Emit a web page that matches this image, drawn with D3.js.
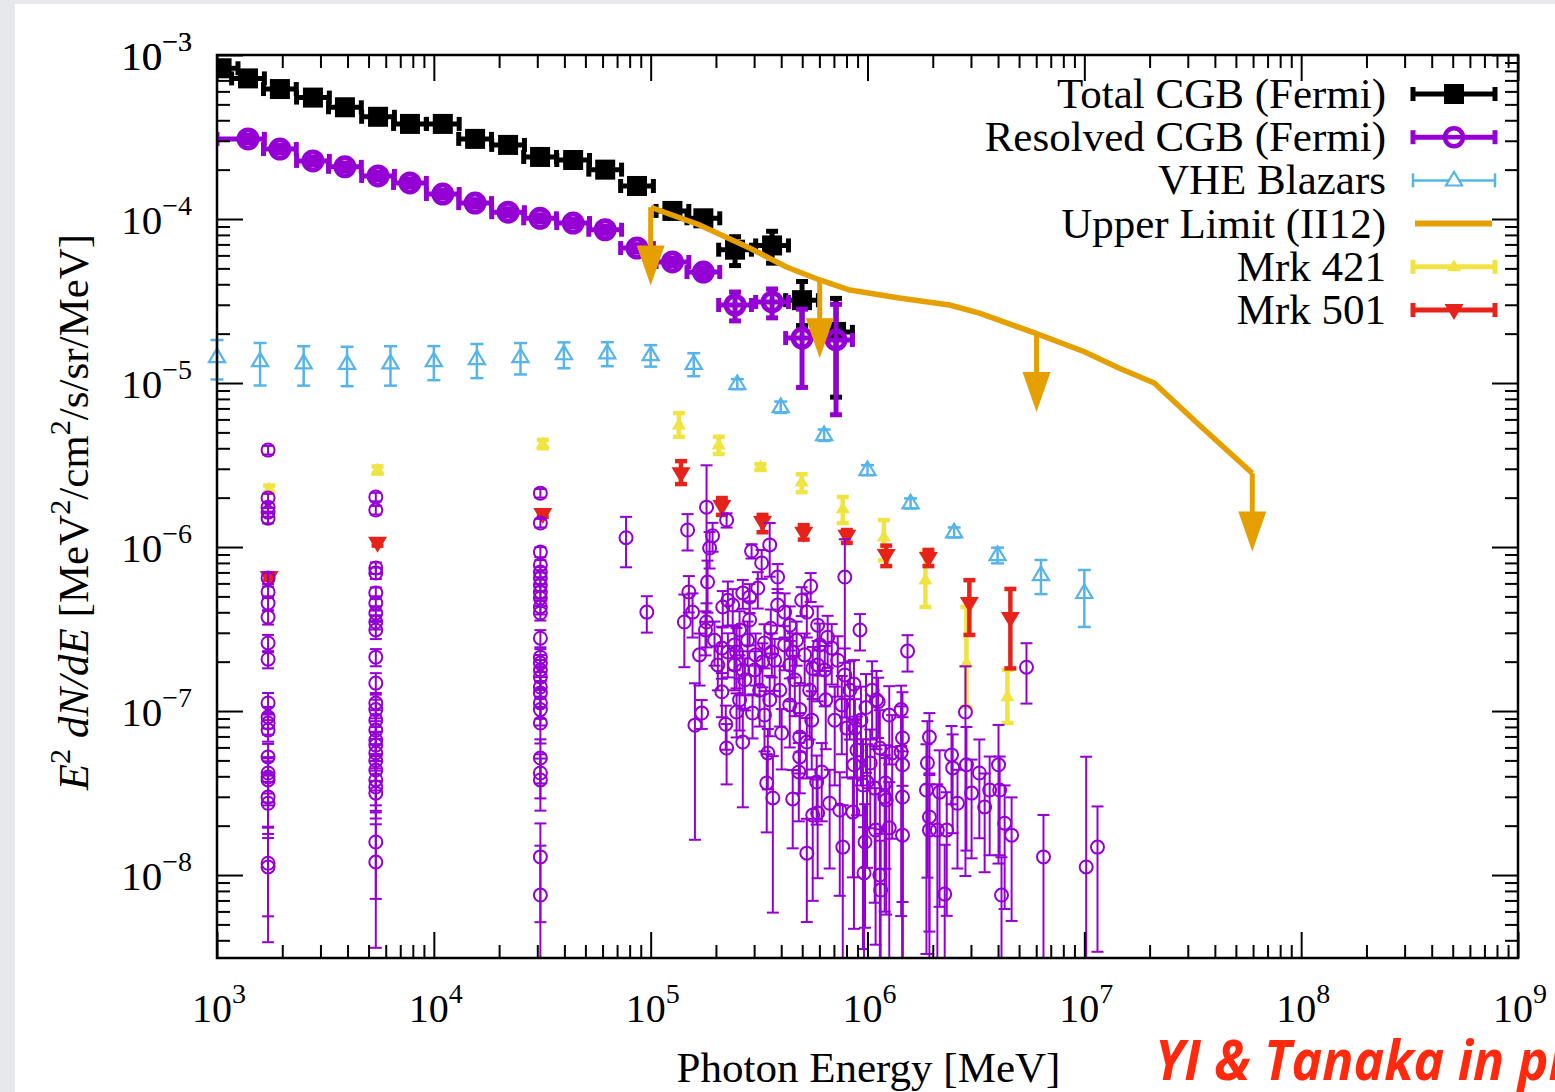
<!DOCTYPE html>
<html>
<head>
<meta charset="utf-8">
<script src="https://cdn.jsdelivr.net/npm/d3@7"></script>
<style>
  html, body { margin: 0; padding: 0; background: #e6e8eb; overflow: hidden; }
  svg { display: block; }
  text { font-family: "Liberation Serif", "Times New Roman", serif; fill: #000; }
</style>
</head>
<body>
<svg id="chart"></svg>
<script>
// Dimensions of the SVG
const W = 1555, H = 1092;
const margin = {top: 55, right: 37, bottom: 134, left: 217};
const width = W - margin.left - margin.right;
const height = H - margin.top - margin.bottom;

// Axis limits
const xMin = 1e3, xMax = 1e9;
const yMin = 3.12e-9, yMax = 1e-3;

// Total CGB (Fermi) : energy [MeV], E^2 dN/dE, relative error
const cgbE = [1.05e3, 1.39e3, 1.95e3, 2.77e3, 3.89e3, 5.53e3, 7.76e3, 1.10e4, 1.55e4, 2.20e4,
  3.09e4, 4.39e4, 6.17e4, 8.65e4, 1.26e5, 1.75e5, 2.45e5, 3.63e5, 4.99e5, 7.16e5];
const cgbFlux = [8.3e-4, 7.2e-4, 6.2e-4, 5.5e-4, 4.8e-4, 4.2e-4, 3.8e-4, 3.8e-4, 3.08e-4, 2.83e-4,
  2.39e-4, 2.29e-4, 2.0e-4, 1.59e-4, 1.12e-4, 1.01e-4, 6.5e-5, 6.9e-5, 3.2e-5, 2.05e-5];
const cgbErr = [0.05, 0.05, 0.05, 0.05, 0.05, 0.05, 0.05, 0.05, 0.05, 0.05,
  0.05, 0.05, 0.05, 0.06, 0.08, 0.08, 0.2, 0.22, 0.3, 0.6];
const binFactor = 1.19;   // half bin width (x 10^0.075)

// Resolved CGB (Fermi)
const resE = [1.39e3, 1.95e3, 2.77e3, 3.89e3, 5.53e3, 7.76e3, 1.10e4, 1.55e4, 2.20e4, 3.09e4,
  4.39e4, 6.17e4, 8.65e4, 1.26e5, 1.75e5, 2.45e5, 3.63e5, 4.99e5, 7.16e5];
const resFlux = [3.08e-4, 2.67e-4, 2.26e-4, 2.08e-4, 1.83e-4, 1.66e-4, 1.42e-4, 1.25e-4, 1.10e-4, 1.01e-4,
  9.45e-5, 8.6e-5, 6.65e-5, 5.47e-5, 4.75e-5, 2.99e-5, 3.12e-5, 1.88e-5, 1.83e-5];
const resErr = [0.05, 0.05, 0.05, 0.05, 0.05, 0.05, 0.05, 0.05, 0.05, 0.05,
  0.05, 0.05, 0.05, 0.05, 0.06, 0.2, 0.2, 0.5, 0.65];
const resFirstLo = 1.0e3;

// VHE Blazars
const vheE = [1.0e3, 1.58e3, 2.51e3, 3.98e3, 6.31e3, 1.0e4, 1.58e4, 2.51e4, 3.98e4, 6.31e4,
  1.0e5, 1.58e5, 2.51e5, 3.98e5, 6.31e5, 1.0e6, 1.58e6, 2.51e6, 3.98e6, 6.31e6, 1.0e7];
const vheFlux = [1.44e-5, 1.36e-5, 1.32e-5, 1.31e-5, 1.32e-5, 1.36e-5, 1.40e-5, 1.44e-5, 1.50e-5, 1.52e-5,
  1.48e-5, 1.31e-5, 9.87e-6, 7.14e-6, 4.82e-6, 2.95e-6, 1.85e-6, 1.23e-6, 8.93e-7, 6.75e-7, 5.25e-7];
const vheErr = [0.27, 0.29, 0.27, 0.27, 0.27, 0.235, 0.235, 0.217, 0.18, 0.167,
  0.15, 0.16, 0.07, 0.08, 0.08, 0.07, 0.07, 0.07, 0.11, 0.235, 0.38];

// Upper Limit (II12)
const ulE = [1.0e5, 1.68e5, 2.86e5, 4.23e5, 6.02e5, 8.29e5, 1.4e6, 2.39e6, 3.28e6, 6.02e6,
  1.0e7, 1.45e7, 2.1e7, 3.39e7, 5.95e7];
const ulFlux = [1.18e-4, 9.2e-5, 6.65e-5, 5.1e-5, 4.25e-5, 3.69e-5, 3.3e-5, 2.99e-5, 2.67e-5, 2.0e-5,
  1.55e-5, 1.23e-5, 1.0e-5, 5.55e-6, 2.82e-6];
const ulArrows = [0, 4, 9, 14];
const ulDrop = 3;

// Mrk 421
const m421E = [1.74e3, 5.5e3, 3.18e4, 1.35e5, 2.06e5, 3.21e5, 4.97e5, 7.69e5, 1.19e6, 1.85e6, 2.86e6, 4.42e6];
const m421Flux = [2.26e-6, 2.95e-6, 4.25e-6, 5.55e-6, 4.19e-6, 3.08e-6, 2.49e-6, 1.71e-6, 1.15e-6, 6.3e-7, 1.96e-7, 1.22e-7];
const m421Lo = [2.15e-6, 2.8e-6, 4.0e-6, 4.7e-6, 3.69e-6, 2.95e-6, 2.16e-6, 1.40e-6, 8.3e-7, 4.31e-7, 1.06e-7, 8.45e-8];
const m421Hi = [2.37e-6, 3.1e-6, 4.5e-6, 6.56e-6, 4.7e-6, 3.2e-6, 2.78e-6, 2.02e-6, 1.46e-6, 9.2e-7, 4.31e-7, 1.78e-7];

// Mrk 501
const m501E = [1.74e3, 5.5e3, 3.18e4, 1.38e5, 2.13e5, 3.28e5, 5.08e5, 8.03e5, 1.22e6, 1.91e6, 2.95e6, 4.56e6];
const m501Flux = [6.56e-7, 1.06e-6, 1.59e-6, 2.82e-6, 1.78e-6, 1.42e-6, 1.22e-6, 1.17e-6, 8.94e-7, 8.57e-7, 4.55e-7, 3.69e-7];
const m501Lo = [6.3e-7, 1.02e-6, 1.53e-6, 2.42e-6, 1.57e-6, 1.23e-6, 1.11e-6, 1.06e-6, 7.65e-7, 7.65e-7, 2.91e-7, 1.82e-7];
const m501Hi = [6.8e-7, 1.1e-6, 1.65e-6, 3.34e-6, 1.99e-6, 1.57e-6, 1.36e-6, 1.27e-6, 1.02e-6, 9.6e-7, 6.28e-7, 5.55e-7];

// Individual sources : [energy, E^2 dN/dE, relative error]
const srcPoints = [
  // 1.7 GeV column
  [1.72e3, 3.9e-6, 0.06], [1.72e3, 1.99e-6, 0.06], [1.72e3, 1.75e-6, 0.06], [1.72e3, 1.63e-6, 0.06],
  [1.72e3, 1.5e-6, 0.07], [1.72e3, 6.47e-7, 0.08], [1.72e3, 5.32e-7, 0.08], [1.72e3, 4.55e-7, 0.1],
  [1.72e3, 3.74e-7, 0.1], [1.72e3, 2.6e-7, 0.12], [1.72e3, 2.07e-7, 0.12], [1.72e3, 1.12e-7, 0.15],
  [1.72e3, 9.2e-8, 0.15], [1.72e3, 8.45e-8, 0.15], [1.72e3, 7.65e-8, 0.15], [1.72e3, 5.25e-8, 0.2],
  [1.72e3, 4.19e-8, 0.25], [1.72e3, 3.96e-8, 0.3], [1.72e3, 3.8e-8, 0.3], [1.72e3, 2.99e-8, 0.35],
  [1.72e3, 2.74e-8, 0.35], [1.72e3, 1.18e-8, 0.67], [1.72e3, 1.12e-8, 0.5],
  // 5.4 GeV column
  [5.4e3, 2.02e-6, 0.06], [5.4e3, 1.68e-6, 0.06], [5.4e3, 7.45e-7, 0.08], [5.4e3, 6.94e-7, 0.08],
  [5.4e3, 5.25e-7, 0.08], [5.4e3, 4.55e-7, 0.1], [5.4e3, 3.96e-7, 0.1], [5.4e3, 3.49e-7, 0.1],
  [5.4e3, 3.12e-7, 0.12], [5.4e3, 2.13e-7, 0.12], [5.4e3, 1.48e-7, 0.15], [5.4e3, 1.12e-7, 0.15],
  [5.4e3, 1.02e-7, 0.15], [5.4e3, 8.8e-8, 0.15], [5.4e3, 7.65e-8, 0.18], [5.4e3, 6.65e-8, 0.2],
  [5.4e3, 6.2e-8, 0.2], [5.4e3, 5.55e-8, 0.22], [5.4e3, 5.0e-8, 0.25], [5.4e3, 4.37e-8, 0.25],
  [5.4e3, 3.8e-8, 0.3], [5.4e3, 3.44e-8, 0.3], [5.4e3, 3.16e-8, 0.3], [5.4e3, 1.59e-8, 0.55],
  [5.4e3, 1.2e-8, 0.7],
  // 31 GeV column
  [3.1e4, 2.13e-6, 0.06], [3.1e4, 1.4e-6, 0.06], [3.1e4, 9.32e-7, 0.07], [3.1e4, 7.77e-7, 0.07],
  [3.1e4, 7.04e-7, 0.07], [3.1e4, 6.47e-7, 0.08], [3.1e4, 5.86e-7, 0.08], [3.1e4, 5.32e-7, 0.08],
  [3.1e4, 4.88e-7, 0.1], [3.1e4, 4.31e-7, 0.1], [3.1e4, 3.96e-7, 0.1], [3.1e4, 2.78e-7, 0.12],
  [3.1e4, 2.13e-7, 0.12], [3.1e4, 1.96e-7, 0.12], [3.1e4, 1.78e-7, 0.15], [3.1e4, 1.61e-7, 0.15],
  [3.1e4, 1.4e-7, 0.15], [3.1e4, 1.29e-7, 0.18], [3.1e4, 1.12e-7, 0.2], [3.1e4, 1.02e-7, 0.2],
  [3.1e4, 8.45e-8, 0.25], [3.1e4, 5.17e-8, 0.3], [3.1e4, 4.19e-8, 0.3], [3.1e4, 3.8e-8, 0.35],
  [3.1e4, 1.29e-8, 0.6], [3.1e4, 7.55e-9, 1.0],
  // TeV sources
  [7.7e4, 1.14e-6, 0.34], [9.6e4, 4.01e-7, 0.25], [1.48e5, 1.27e-6, 0.25], [1.81e5, 1.75e-6, 0.8],
  [2.24e5, 1.46e-6, 0.1], [1.93e5, 1.17e-6, 0.2], [1.87e5, 9.86e-7, 0.25], [2.92e5, 9.45e-7, 0.1],
  [3.54e5, 1.03e-6, 0.36], [3.25e5, 7.99e-7, 0.2], [3.85e5, 6.56e-7, 0.2], [5.47e5, 5.78e-7, 0.2],
  [7.86e5, 6.56e-7, 0.7], [1.50e5, 5.32e-7, 0.25], [1.83e5, 6.12e-7, 0.35], [1.56e5, 4.01e-7, 0.3],
  [1.43e5, 3.49e-7, 0.47], [1.81e5, 3.49e-7, 0.3], [1.79e5, 3.12e-7, 0.3], [2.27e5, 4.74e-7, 0.3],
  [2.39e5, 4.43e-7, 0.25], [2.15e5, 4.31e-7, 0.25], [2.66e5, 5.25e-7, 0.2], [2.86e5, 4.95e-7, 0.2],
  [3.12e5, 5.62e-7, 0.25], [3.85e5, 4.43e-7, 0.25], [5.25e5, 4.01e-7, 0.3], [4.97e5, 4.74e-7, 0.2],
  [3.58e5, 3.2e-7, 0.3], [1.68e5, 2.2e-7, 0.35], [2.27e5, 2.29e-7, 0.3], [2.49e5, 2.29e-7, 0.4],
  [3.62e5, 2.29e-7, 0.3], [4.52e5, 2.29e-7, 0.3], [6.55e5, 2.82e-7, 0.35], [6.84e5, 2.42e-7, 0.4],
  [9.23e5, 3.12e-7, 0.25], [5.89e5, 1.91e-7, 0.4], [5.59e5, 1.82e-7, 0.35], [8.66e5, 1.46e-7, 0.4],
  [2.13e5, 1.31e-7, 0.3], [1.72e5, 9.72e-8, 0.2], [2.66e5, 1.78e-7, 0.3], [3.28e5, 1.99e-7, 0.3],
  [1.10e6, 1.17e-7, 0.5], [2.22e5, 8.3e-8, 0.3], [2.24e5, 5.95e-8, 0.4], [1.60e5, 8.2e-8, 0.8],
  [2.66e5, 6.47e-8, 0.6], [3.43e5, 3.64e-8, 0.5], [3.66e5, 2.95e-8, 0.8], [4.52e5, 2.91e-8, 0.5],
  [5.25e5, 1.36e-8, 0.62], [4.87e5, 5.25e-8, 0.4], [4.87e5, 6.94e-8, 0.4], [5.83e5, 3.69e-8, 0.45],
  [5.89e5, 2.39e-8, 0.6], [6.69e5, 2.74e-8, 0.6], [7.69e5, 1.48e-8, 0.8], [8.03e5, 7.87e-8, 0.5],
  [8.75e5, 7.87e-8, 0.5], [8.94e5, 5.78e-8, 0.6], [8.66e5, 4.7e-8, 0.9], [9.53e5, 3.54e-8, 0.9],
  [9.74e5, 1.59e-8, 0.7], [9.64e5, 1.03e-8, 0.9], [9.95e5, 3.69e-8, 0.7], [1.03e6, 4.82e-8, 0.6],
  [1.09e6, 1.88e-8, 0.8], [1.14e6, 1.0e-8, 0.9], [1.15e6, 8.1e-9, 1.0], [1.12e6, 1.14e-7, 0.4],
  [1.14e6, 5.95e-8, 0.7], [1.21e6, 3.64e-8, 0.7], [1.20e6, 2.99e-8, 0.8], [1.26e6, 9.45e-8, 0.5],
  [1.30e6, 5.55e-8, 0.7], [1.43e6, 1.02e-7, 0.4], [1.45e6, 6.85e-8, 0.9], [1.43e6, 5.62e-8, 0.9],
  [1.45e6, 4.7e-8, 0.95], [1.45e6, 2.99e-8, 0.9], [1.45e6, 1.75e-8, 1.0], [1.53e6, 2.32e-7, 0.25],
  [1.93e6, 6.94e-8, 0.4], [1.89e6, 4.82e-8, 0.8], [1.87e6, 3.3e-8, 0.9], [1.93e6, 2.26e-8, 0.8],
  [1.93e6, 1.88e-8, 0.9], [2.10e6, 1.88e-8, 0.9], [2.15e6, 3.2e-8, 0.8], [2.27e6, 7.65e-9, 1.0],
  [2.32e6, 1.88e-8, 0.7], [2.44e6, 5.4e-8, 0.5], [2.47e6, 4.5e-8, 0.6], [2.60e6, 2.74e-8, 0.6],
  [2.83e6, 9.86e-8, 0.9], [2.86e6, 4.7e-8, 0.7], [3.02e6, 3.16e-8, 0.6], [3.28e6, 4.19e-8, 0.6],
  [3.47e6, 2.6e-8, 0.6], [3.66e6, 3.3e-8, 0.6], [4.02e6, 4.7e-8, 0.75], [4.07e6, 3.3e-8, 0.6],
  [4.29e6, 2.07e-8, 0.7], [4.15e6, 7.55e-9, 0.7], [4.62e6, 1.75e-8, 0.7], [5.41e6, 1.85e-7, 0.4],
  [6.48e6, 1.29e-8, 0.8], [1.02e7, 1.12e-8, 3.7], [1.15e7, 1.48e-8, 0.77],
  [2.49e5, 9.86e-8, 0.3], [2.95e5, 9.72e-8, 0.3], [3.47e5, 5.55e-8, 0.4], [4.02e5, 7.34e-8, 0.4],
  [5.25e5, 6.47e-8, 0.4], [4.82e5, 4.25e-8, 0.5], [5.59e5, 2.32e-8, 0.7], [6.15e5, 4.25e-8, 0.5],
  [7.45e5, 2.49e-8, 0.7], [8.56e5, 2.42e-8, 0.6], [1.08e6, 3.39e-8, 0.8], [1.22e6, 2.87e-8, 0.8],
  [1.26e6, 1.94e-8, 0.9],
  [1.97e5, 2.7e-7, 0.3], [2.13e5, 2.42e-7, 0.35], [2.44e5, 2.53e-7, 0.3], [2.80e5, 2.7e-7, 0.3],
  [3.05e5, 2.2e-7, 0.35], [3.35e5, 2.6e-7, 0.3], [3.73e5, 2.04e-7, 0.35], [4.15e5, 2.53e-7, 0.3],
  [4.38e5, 1.91e-7, 0.4], [4.71e5, 2.7e-7, 0.3], [5.13e5, 2.2e-7, 0.35], [6.02e5, 2.53e-7, 0.35],
  [6.35e5, 1.78e-7, 0.4], [7.29e5, 2.04e-7, 0.4], [7.86e5, 1.66e-7, 0.45], [8.29e5, 1.34e-7, 0.5],
  [2.44e5, 1.91e-7, 0.3], [2.72e5, 1.55e-7, 0.35], [3.02e5, 1.78e-7, 0.3], [3.18e5, 1.34e-7, 0.4],
  [3.94e5, 1.34e-7, 0.4], [4.62e5, 1.55e-7, 0.4], [5.41e5, 1.34e-7, 0.5], [3.54e5, 1.17e-7, 0.4],
  [2.57e5, 1.17e-7, 0.35], [2.04e5, 1.91e-7, 0.3], [4.38e5, 1.09e-7, 0.45], [3.35e5, 9.45e-8, 0.4],
  [4.87e5, 1.02e-7, 0.45], [5.53e5, 8.8e-8, 0.5], [6.42e5, 1.17e-7, 0.5], [7.06e5, 8.8e-8, 0.6],
  [7.61e5, 1.09e-7, 0.5], [9.84e5, 1.05e-7, 0.6], [9.33e5, 8.8e-8, 0.6], [1.05e6, 1.34e-7, 0.5],
  [2.86e5, 3.59e-7, 0.3], [4.38e5, 3.34e-7, 0.3], [2.57e5, 3.12e-7, 0.3], [5.89e5, 3.34e-7, 0.3],
  [4.15e5, 4.01e-7, 0.3]
];

// Legend entries
const legendNames = ['Total CGB (Fermi)', 'Resolved CGB (Fermi)', 'VHE Blazars',
  'Upper Limit (II12)', 'Mrk 421', 'Mrk 501'];

// Colors
const colBlack = '#000000', colPurple = '#9400d3', colBlue = '#56b4e9',
  colOrange = '#e69f00', colYellow = '#f0e442', colRed = '#e5231b';


// Get the SVG
const root = d3.select('#chart').attr('width', W).attr('height', H);
root.append('rect').attr('width', W).attr('height', H).attr('fill', '#e6e8eb');
root.append('rect').attr('x', 15).attr('y', 4).attr('width', W - 15).attr('height', H - 4).attr('fill', '#fff');

const svg = root.append('g')
  .attr('transform', `translate(${margin.left}, ${margin.top})`);

// Scales
const x = d3.scaleLog().domain([xMin, xMax]).range([0, width]);
const y = d3.scaleLog().domain([yMin, yMax]).range([height, 0]);

svg.append('clipPath').attr('id', 'clip')
  .append('rect').attr('width', width).attr('height', height);

const yc = (v) => y(Math.min(Math.max(v, yMin), yMax));


// Vertical error bar with caps
function vBar (layer, e, lo, hi, cap, color, w) {
  const px = x(e);
  const y0 = yc(lo), y1 = yc(hi);
  layer.append('line').attr('x1', px).attr('x2', px).attr('y1', y0).attr('y2', y1)
    .attr('stroke', color).attr('stroke-width', w);
  if (lo > yMin) {
    layer.append('line').attr('x1', px - cap / 2).attr('x2', px + cap / 2).attr('y1', y0).attr('y2', y0)
      .attr('stroke', color).attr('stroke-width', w);
  }
  layer.append('line').attr('x1', px - cap / 2).attr('x2', px + cap / 2).attr('y1', y1).attr('y2', y1)
    .attr('stroke', color).attr('stroke-width', w);
}

// Horizontal (bin) error bar with caps
function hBar (layer, eLo, eHi, v, cap, color, w) {
  const py = y(v);
  const x0 = x(Math.max(eLo, xMin)), x1 = x(eHi);
  layer.append('line').attr('x1', x0).attr('x2', x1).attr('y1', py).attr('y2', py)
    .attr('stroke', color).attr('stroke-width', w);
  [x0, x1].forEach((px) => {
    layer.append('line').attr('x1', px).attr('x2', px).attr('y1', py - cap / 2).attr('y2', py + cap / 2)
      .attr('stroke', color).attr('stroke-width', w);
  });
}

const triUp = (s) => `M0,${-s}L${s * 0.95},${s * 0.6}L${-s * 0.95},${s * 0.6}Z`;
const triDown = (s) => `M0,${s}L${s * 0.95},${-s * 0.6}L${-s * 0.95},${-s * 0.6}Z`;


// Total CGB
const gCgb = svg.append('g').attr('clip-path', 'url(#clip)');
cgbE.forEach((e, i) => {
  const v = cgbFlux[i];
  hBar(gCgb, e / binFactor, e * binFactor, v, 14, colBlack, 5);
  vBar(gCgb, e, v * (1 - cgbErr[i]), v * (1 + cgbErr[i]), 12, colBlack, 5);
  gCgb.append('rect').attr('x', x(e) - 10).attr('y', y(v) - 10)
    .attr('width', 20).attr('height', 20).attr('fill', colBlack);
});

// Resolved CGB
const gRes = svg.append('g').attr('clip-path', 'url(#clip)');
resE.forEach((e, i) => {
  const v = resFlux[i];
  hBar(gRes, i === 0 ? resFirstLo : e / binFactor, e * binFactor, v, 14, colPurple, 5);
  vBar(gRes, e, v * (1 - resErr[i]), v * (1 + resErr[i]), 12, colPurple, 5);
  gRes.append('circle').attr('cx', x(e)).attr('cy', y(v)).attr('r', 9)
    .attr('fill', 'none').attr('stroke', colPurple).attr('stroke-width', 5);
});

// VHE Blazars
const gVhe = svg.append('g');
vheE.forEach((e, i) => {
  const v = vheFlux[i];
  vBar(gVhe, e, v * (1 - vheErr[i]), v * (1 + vheErr[i]), 13, colBlue, 2.5);
  gVhe.append('path').attr('d', triUp(8.5))
    .attr('transform', `translate(${x(e)}, ${y(v)})`)
    .attr('fill', 'none').attr('stroke', colBlue).attr('stroke-width', 2.2);
});

// Upper limit line and arrows
const gUl = svg.append('g');
const ulPts = ulE.map((e, i) => [e, ulFlux[i]]);
gUl.append('path')
  .attr('d', d3.line().x((d) => x(d[0])).y((d) => y(d[1])).curve(d3.curveLinear)(ulPts))
  .attr('fill', 'none').attr('stroke', colOrange).attr('stroke-width', 5.5)
  .attr('stroke-linejoin', 'round');
ulArrows.forEach((i) => {
  const px = x(ulE[i]);
  const y0 = y(ulFlux[i]), y1 = y(ulFlux[i] / ulDrop);
  gUl.append('line').attr('x1', px).attr('x2', px).attr('y1', y0).attr('y2', y1 - 30)
    .attr('stroke', colOrange).attr('stroke-width', 5);
  gUl.append('path').attr('d', `M${px - 14},${y1 - 40}L${px + 14},${y1 - 40}L${px},${y1}Z`)
    .attr('fill', colOrange);
});

// Mrk 421
const gM421 = svg.append('g');
m421E.forEach((e, i) => {
  vBar(gM421, e, m421Lo[i], m421Hi[i], 12, colYellow, 4.5);
  gM421.append('path').attr('d', triUp(7.5))
    .attr('transform', `translate(${x(e)}, ${y(m421Flux[i])})`).attr('fill', colYellow);
});

// Mrk 501
const gM501 = svg.append('g');
m501E.forEach((e, i) => {
  vBar(gM501, e, m501Lo[i], m501Hi[i], 12, colRed, 4.5);
  gM501.append('path').attr('d', triDown(10))
    .attr('transform', `translate(${x(e)}, ${y(m501Flux[i])})`).attr('fill', colRed);
});

// Individual resolved sources
const gSrc = svg.append('g').attr('clip-path', 'url(#clip)');
srcPoints.forEach(([e, v, f]) => {
  vBar(gSrc, e, v * (1 - f), v * (1 + f), 12, colPurple, 2);
});
srcPoints.forEach(([e, v]) => {
  gSrc.append('circle').attr('cx', x(e)).attr('cy', y(v)).attr('r', 6.5)
    .attr('fill', 'none').attr('stroke', colPurple).attr('stroke-width', 2);
});


// Ticks (inside, on all four sides)
const xMajor = d3.range(3, 10).map((k) => Math.pow(10, k));
const xMinor = d3.range(3, 9).flatMap((k) => d3.range(2, 10).map((m) => m * Math.pow(10, k)));
const yMajor = d3.range(-8, -2).map((k) => Math.pow(10, k));
const yMinor = d3.range(-9, -3).flatMap((k) => d3.range(2, 10).map((m) => m * Math.pow(10, k)))
  .filter((v) => v > yMin && v < yMax);

function tickAxis (axis, values, size, transform) {
  svg.append('g')
    .attr('transform', transform)
    .call(axis.tickValues(values).tickSize(-size).tickFormat(''))
    .call((g) => g.select('.domain').remove())
    .call((g) => g.selectAll('line').attr('stroke', '#000').attr('stroke-width', 2));
}
tickAxis(d3.axisBottom(x), xMajor, 26, `translate(0, ${height})`);
tickAxis(d3.axisBottom(x), xMinor, 13, `translate(0, ${height})`);
tickAxis(d3.axisTop(x), xMajor, 26, 'translate(0, 0)');
tickAxis(d3.axisTop(x), xMinor, 13, 'translate(0, 0)');
tickAxis(d3.axisLeft(y), yMajor, 26, 'translate(0, 0)');
tickAxis(d3.axisLeft(y), yMinor, 13, 'translate(0, 0)');
tickAxis(d3.axisRight(y), yMajor, 26, `translate(${width}, 0)`);
tickAxis(d3.axisRight(y), yMinor, 13, `translate(${width}, 0)`);

// Frame
svg.append('rect').attr('width', width).attr('height', height)
  .attr('fill', 'none').attr('stroke', '#000').attr('stroke-width', 2.5);


// Tick labels 10^n
function powLabel (sel, exp) {
  sel.append('tspan').text('10');
  sel.append('tspan').attr('dy', -19).attr('font-size', 28).text(String(exp).replace('-', '\u2212'));
}
xMajor.forEach((v) => {
  const t = svg.append('text').attr('x', x(v) + 2).attr('y', height + 64)
    .attr('text-anchor', 'middle').attr('font-size', 40);
  powLabel(t, Math.round(Math.log10(v)));
});
yMajor.concat([1e-3]).forEach((v) => {
  const t = svg.append('text').attr('x', -25).attr('y', y(v) + 15)
    .attr('text-anchor', 'end').attr('font-size', 41);
  powLabel(t, Math.round(Math.log10(v)));
});


// Axis titles
function richText (textSel, parts, size) {
  let shift = 0;
  parts.forEach(([t, s]) => {
    const sup = s === 's';
    const target = sup ? -0.42 * size : 0;
    const ts = textSel.append('tspan').attr('dy', target - shift).text(t);
    shift = target;
    if (sup) ts.attr('font-size', size * 0.7);
    if (s === 'i') ts.attr('font-style', 'italic');
  });
}

svg.append('text')
  .attr('x', width / 2 + 1).attr('y', height + 124)
  .attr('text-anchor', 'middle').attr('font-size', 43)
  .text('Photon Energy [MeV]');

const yTitle = root.append('text')
  .attr('transform', 'translate(88, 512) rotate(-90)')
  .attr('text-anchor', 'middle').attr('font-size', 43);
richText(yTitle, [['E', 'i'], ['2', 's'], [' ', ''], ['dN/dE', 'i'], [' [MeV', ''], ['2', 's'],
  ['/cm', ''], ['2', 's'], ['/s/sr/MeV]', '']], 43);


// Legend
drawLegend();

function drawLegend () {
  const lx0 = 1413 - margin.left, lx1 = 1495 - margin.left, lxm = (lx0 + lx1) / 2;
  const rowY = (i) => 94 - margin.top + i * 43.2;
  const legend = svg.append('g').attr('class', 'legend');

  legend.selectAll('text')
    .data(legendNames)
    .enter()
    .append('text')
    .attr('x', 1386 - margin.left)
    .attr('y', (d, i) => rowY(i) + 14)
    .attr('text-anchor', 'end')
    .attr('font-size', 43)
    .text((d) => d);

  const capLine = (py, color, w, cap) => {
    legend.append('line').attr('x1', lx0).attr('x2', lx1).attr('y1', py).attr('y2', py)
      .attr('stroke', color).attr('stroke-width', w);
    [lx0, lx1].forEach((px) => legend.append('line')
      .attr('x1', px).attr('x2', px).attr('y1', py - cap / 2).attr('y2', py + cap / 2)
      .attr('stroke', color).attr('stroke-width', w));
  };

  capLine(rowY(0), colBlack, 5, 14);
  legend.append('rect').attr('x', lxm - 10).attr('y', rowY(0) - 10).attr('width', 20).attr('height', 20)
    .attr('fill', colBlack);

  capLine(rowY(1), colPurple, 5, 14);
  legend.append('circle').attr('cx', lxm).attr('cy', rowY(1)).attr('r', 9)
    .attr('fill', '#fff').attr('stroke', colPurple).attr('stroke-width', 4.5);
  legend.append('line').attr('x1', lxm - 9).attr('x2', lxm + 9).attr('y1', rowY(1)).attr('y2', rowY(1))
    .attr('stroke', colPurple).attr('stroke-width', 4.5);

  capLine(rowY(2), colBlue, 2.5, 14);
  legend.append('path').attr('d', triUp(8.5)).attr('transform', `translate(${lxm}, ${rowY(2)})`)
    .attr('fill', '#fff').attr('stroke', colBlue).attr('stroke-width', 2.2);

  legend.append('line').attr('x1', lx0 + 2).attr('x2', lx1 - 3).attr('y1', rowY(3)).attr('y2', rowY(3))
    .attr('stroke', colOrange).attr('stroke-width', 6);

  capLine(rowY(4), colYellow, 5, 14);
  legend.append('path').attr('d', triUp(7.5)).attr('transform', `translate(${lxm}, ${rowY(4)})`)
    .attr('fill', colYellow);

  capLine(rowY(5), colRed, 5, 14);
  legend.append('path').attr('d', triDown(10)).attr('transform', `translate(${lxm}, ${rowY(5)})`)
    .attr('fill', colRed);
}


// Credit (runs off the right edge, as in the original slide)
root.append('text')
  .attr('transform', 'translate(1155, 1080) scale(0.94, 1)')
  .style('font-family', '"Open Sans", sans-serif')
  .style('font-weight', 700).style('font-style', 'italic')
  .attr('font-size', 55).style('fill', '#ff2a0d')
  .text('YI & Tanaka in prep.');
</script>
</body>
</html>
